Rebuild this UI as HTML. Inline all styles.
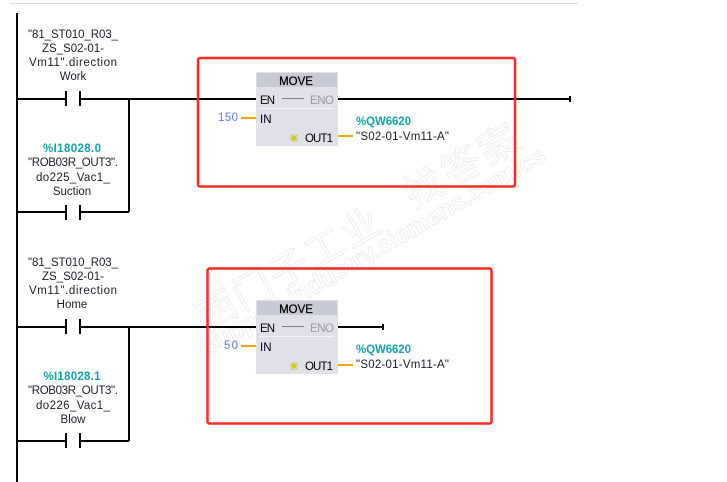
<!DOCTYPE html>
<html><head><meta charset="utf-8"><style>
html,body{margin:0;padding:0;background:#fff}
svg{display:block}
text{font-family:"Liberation Sans","Noto Sans CJK SC",sans-serif;font-size:11.5px;fill:#1c1c28}
.m{text-anchor:middle}
.t{fill:#12a3a8;font-weight:bold;font-size:11.5px}
.p{font-size:11.5px;fill:#000}
.h{font-size:11.5px;font-weight:normal;fill:#000;stroke:#000;stroke-width:.25}
.wm{fill:#fff;stroke:#ededed;stroke-width:.9}
</style></head><body>
<svg width="727" height="482" viewBox="0 0 727 482" xmlns="http://www.w3.org/2000/svg">
<rect width="727" height="482" fill="#fff"/>
<rect x="10" y="3" width="568" height="1" fill="#d9d9e6"/>

<!-- watermark -->
<g transform="translate(208,356) rotate(-30)"><text class="wm" style="font-size:25px;font-weight:bold" textLength="392" lengthAdjust="spacingAndGlyphs">support.industry.siemens.com/cs</text></g>
<g transform="translate(207,332) rotate(-30)"><text class="wm" style="font-size:39px" textLength="205">西门子工业</text></g>
<g transform="translate(414,209) rotate(-30)"><text class="wm" style="font-size:39px" textLength="125">找答案</text></g>

<!-- rails -->
<g stroke="#000" stroke-width="2" fill="none">
<path d="M17 13V482"/>
<path d="M17 99H66M80 99H256M338 99H570"/>
<path d="M129 99V212"/>
<path d="M17 212H66M80 212H129"/>
<path d="M17 327H66M80 327H256M338 327H384"/>
<path d="M129 327V441"/>
<path d="M17 441H66M80 441H129"/>
<path d="M66 91V106M80 91V106M66 205V220M80 205V220M66 319V334M80 319V334M66 433V448M80 433V448"/>
<path d="M570 96V102M383 324V330"/>
</g>

<!-- contact labels -->
<text class="m" x="73" y="38" textLength="90">"81_ST010_R03_</text>
<text class="m" x="73" y="52" textLength="62">ZS_S02-01-</text>
<text class="m" x="73" y="66" textLength="88">Vm11".direction</text>
<text class="m" x="73" y="80">Work</text>
<text class="m t" x="72" y="152" textLength="58">%I18028.0</text>
<text class="m" x="73" y="166" textLength="90">"ROB03R_OUT3".</text>
<text class="m" x="73" y="181" textLength="74">do225_Vac1_</text>
<text class="m" x="72" y="195">Suction</text>

<text class="m" x="73" y="266" textLength="90">"81_ST010_R03_</text>
<text class="m" x="73" y="280" textLength="62">ZS_S02-01-</text>
<text class="m" x="73" y="294" textLength="88">Vm11".direction</text>
<text class="m" x="72" y="308">Home</text>
<text class="m t" x="72" y="380" textLength="57">%I18028.1</text>
<text class="m" x="73" y="394" textLength="90">"ROB03R_OUT3".</text>
<text class="m" x="73" y="409" textLength="74">do226_Vac1_</text>
<text class="m" x="73" y="423">Blow</text>

<!-- block 1 -->
<g>
<rect x="256" y="72" width="82" height="74" fill="#dfe0e8"/>
<rect x="257" y="73" width="80" height="14" fill="#c8cad6"/>
<text class="m h" x="296" y="85">MOVE</text>
<text class="p" x="260" y="104" textLength="15">EN</text>
<rect x="282" y="98" width="22" height="1" fill="#808080"/>
<text x="310" y="104" style="fill:#9a9aa0" textLength="24">ENO</text>
<rect x="260" y="108" width="74" height="1" fill="#f4f4f8"/>
<text class="p" x="260" y="123">IN</text>
<text class="p" x="305" y="142" textLength="28">OUT1</text>
<text x="294" y="142" text-anchor="middle" style="fill:#c8c800;font-size:11px;font-weight:bold">✳</text>
<rect x="241" y="117" width="15" height="2" fill="#ffa500"/>
<rect x="338" y="135" width="15" height="2" fill="#ffa500"/>
<text x="218" y="121" style="fill:#5b7fd6" textLength="20">150</text>
<text class="t" x="356" y="125" textLength="55">%QW6620</text>
<text x="356" y="140" textLength="93">"S02-01-Vm11-A"</text>
</g>

<!-- block 2 -->
<g>
<rect x="256" y="300" width="82" height="74" fill="#dfe0e8"/>
<rect x="257" y="301" width="80" height="14" fill="#c8cad6"/>
<text class="m h" x="296" y="313">MOVE</text>
<text class="p" x="260" y="332" textLength="15">EN</text>
<rect x="282" y="326" width="22" height="1" fill="#808080"/>
<text x="310" y="332" style="fill:#9a9aa0" textLength="24">ENO</text>
<rect x="260" y="336" width="74" height="1" fill="#f4f4f8"/>
<text class="p" x="260" y="351">IN</text>
<text class="p" x="305" y="370" textLength="28">OUT1</text>
<text x="294" y="370" text-anchor="middle" style="fill:#c8c800;font-size:11px;font-weight:bold">✳</text>
<rect x="241" y="345" width="15" height="2" fill="#ffa500"/>
<rect x="338" y="364" width="15" height="2" fill="#ffa500"/>
<text x="224" y="349" style="fill:#5b7fd6" textLength="14">50</text>
<text class="t" x="356" y="353" textLength="55">%QW6620</text>
<text x="356" y="368" textLength="93">"S02-01-Vm11-A"</text>
</g>

<!-- red boxes -->
<rect x="198" y="58" width="317" height="128.500" rx="2" fill="none" stroke="#fb2a22" stroke-width="2.500"/>
<rect x="207.500" y="268.500" width="284" height="155" rx="2" fill="none" stroke="#fb2a22" stroke-width="2.500"/>
</svg>
</body></html>
